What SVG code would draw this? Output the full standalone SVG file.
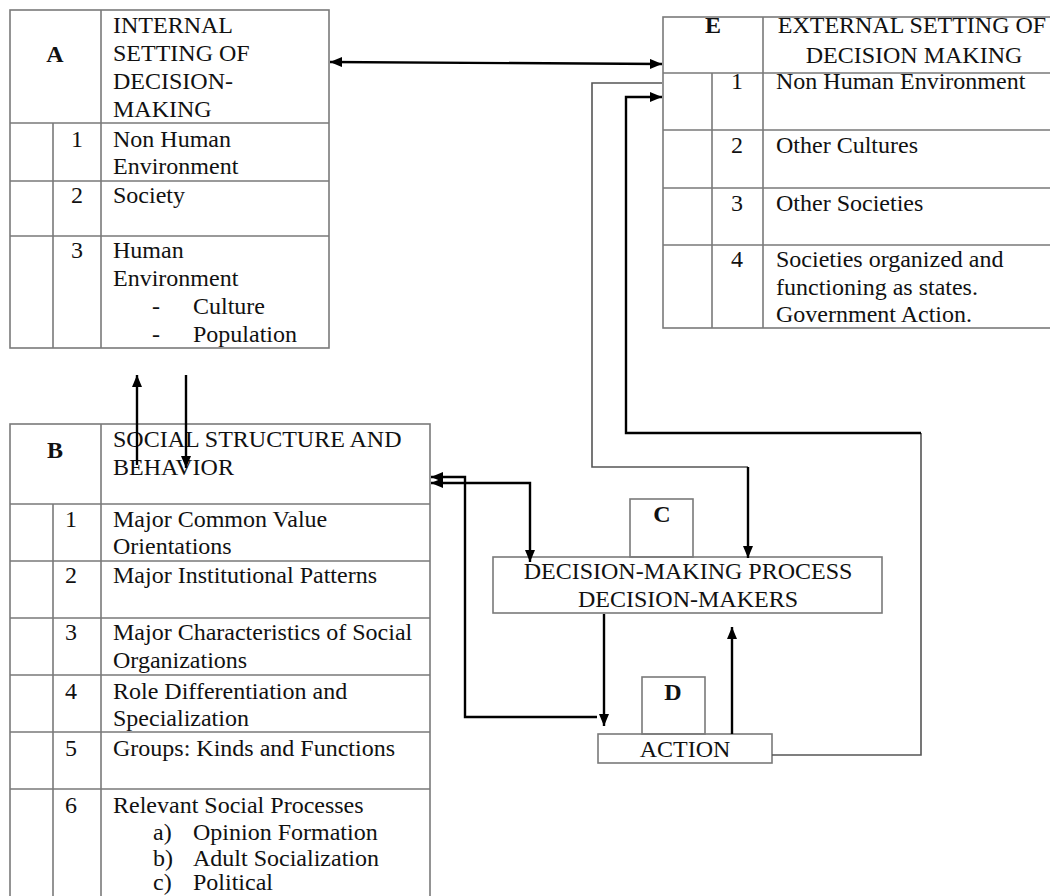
<svg xmlns="http://www.w3.org/2000/svg" width="1050" height="896" viewBox="0 0 1050 896">
<style>
.t{font-family:"Liberation Serif","Times New Roman",serif;font-size:24px;fill:#111}
.b{font-weight:bold}
.m{text-anchor:middle}
.g{fill:none;stroke:#7a7a7a;stroke-width:1.6}
.k{fill:none;stroke:#000;stroke-width:2.4}
.w{fill:none;stroke:#555;stroke-width:1.6}
</style>
<defs>
<marker id="ah" viewBox="0 0 12 10" refX="12" refY="5" markerWidth="12" markerHeight="10" markerUnits="userSpaceOnUse" orient="auto-start-reverse"><path d="M0,0 L12,5 L0,10 z" fill="#000"/></marker>
</defs>
<rect width="1050" height="896" fill="#fff"/>

<g id="nodeA">
<rect class="g" x="10" y="10" width="319" height="338"/>
<path class="g" d="M10,123H329M10,181H329M10,236H329M101,10V348M53,123V348"/>
<text class="t b m" x="55" y="62">A</text>
<text class="t" x="113" y="33">INTERNAL</text>
<text class="t" x="113" y="61">SETTING OF</text>
<text class="t" x="113" y="89">DECISION-</text>
<text class="t" x="113" y="117">MAKING</text>
<text class="t m" x="77" y="147">1</text>
<text class="t" x="113" y="147">Non Human</text>
<text class="t" x="113" y="174">Environment</text>
<text class="t m" x="77" y="203">2</text>
<text class="t" x="113" y="203">Society</text>
<text class="t m" x="77" y="258">3</text>
<text class="t" x="113" y="258">Human</text>
<text class="t" x="113" y="286">Environment</text>
<text class="t" x="152" y="314">-</text>
<text class="t" x="193" y="314">Culture</text>
<text class="t" x="152" y="342">-</text>
<text class="t" x="193" y="342">Population</text>
</g>

<g id="nodeB">
<rect class="g" x="10" y="424" width="420" height="480"/>
<path class="g" d="M10,504H430M10,561H430M10,618H430M10,675H430M10,732H430M10,789H430M101,424V904M53,504V904"/>
<text class="t b m" x="55" y="458">B</text>
<text class="t" x="113" y="447">SOCIAL STRUCTURE AND</text>
<text class="t" x="113" y="475">BEHAVIOR</text>
<text class="t m" x="71" y="527">1</text>
<text class="t" x="113" y="527">Major Common Value</text>
<text class="t" x="113" y="554">Orientations</text>
<text class="t m" x="71" y="583">2</text>
<text class="t" x="113" y="583">Major Institutional Patterns</text>
<text class="t m" x="71" y="640">3</text>
<text class="t" x="113" y="640">Major Characteristics of Social</text>
<text class="t" x="113" y="668">Organizations</text>
<text class="t m" x="71" y="699">4</text>
<text class="t" x="113" y="699">Role Differentiation and</text>
<text class="t" x="113" y="726">Specialization</text>
<text class="t m" x="71" y="756">5</text>
<text class="t" x="113" y="756">Groups: Kinds and Functions</text>
<text class="t m" x="71" y="813">6</text>
<text class="t" x="113" y="813">Relevant Social Processes</text>
<text class="t" x="153" y="840">a)</text>
<text class="t" x="193" y="840">Opinion Formation</text>
<text class="t" x="153" y="866">b)</text>
<text class="t" x="193" y="866">Adult Socialization</text>
<text class="t" x="153" y="890">c)</text>
<text class="t" x="193" y="890">Political</text>
</g>

<g id="nodeE">
<rect class="g" x="663" y="17" width="400" height="311"/>
<path class="g" d="M663,73H1063M663,130H1063M663,188H1063M663,245H1063M763,17V328M712,73V328"/>
<text class="t b m" x="713" y="33">E</text>
<text class="t m" x="912" y="33">EXTERNAL SETTING OF</text>
<text class="t m" x="914" y="63">DECISION MAKING</text>
<text class="t m" x="737" y="89">1</text>
<text class="t" x="776" y="89">Non Human Environment</text>
<text class="t m" x="737" y="153">2</text>
<text class="t" x="776" y="153">Other Cultures</text>
<text class="t m" x="737" y="211">3</text>
<text class="t" x="776" y="211">Other Societies</text>
<text class="t m" x="737" y="267">4</text>
<text class="t" x="776" y="267">Societies organized and</text>
<text class="t" x="776" y="295">functioning as states.</text>
<text class="t" x="776" y="322">Government Action.</text>
</g>

<g id="nodeC">
<rect class="g" x="630" y="499" width="63" height="58"/>
<text class="t b m" x="662" y="522">C</text>
<rect class="g" x="493" y="557" width="389" height="56"/>
<text class="t m" x="688" y="579">DECISION-MAKING PROCESS</text>
<text class="t m" x="688" y="607">DECISION-MAKERS</text>
</g>

<g id="nodeD">
<rect class="g" x="642" y="677" width="63" height="57"/>
<text class="t b m" x="673" y="700">D</text>
<rect class="g" x="598" y="734" width="174" height="29"/>
<text class="t m" x="685" y="757">ACTION</text>
</g>

<g id="connectors">
<path class="k" d="M330,62L662,64" marker-start="url(#ah)" marker-end="url(#ah)"/>
<path class="k" d="M137,465V375" marker-end="url(#ah)"/>
<path class="k" d="M186,375V468" marker-end="url(#ah)"/>
<path class="k" d="M597,717H465V477H431" marker-end="url(#ah)"/>
<path class="k" d="M431,483H530V562" marker-start="url(#ah)" marker-end="url(#ah)"/>
<path class="k" d="M604,614V726" marker-end="url(#ah)"/>
<path class="k" d="M732,734V627" marker-end="url(#ah)"/>
<path class="w" d="M772,755H921V433"/>
<path class="k" d="M921,433H626V97H662" marker-end="url(#ah)"/>
<path class="w" d="M662,83H592V467H748"/>
<path class="k" d="M748,467V558" marker-end="url(#ah)"/>
</g>
</svg>
